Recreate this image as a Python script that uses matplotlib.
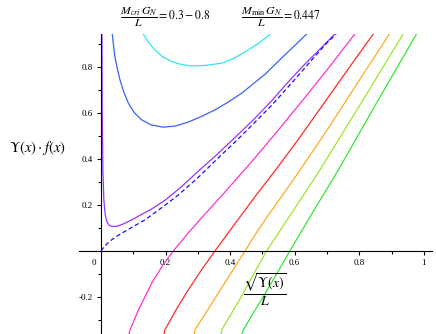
import matplotlib
matplotlib.use("Agg")
import matplotlib.pyplot as plt
from matplotlib.ticker import FixedLocator

plt.rcParams['font.family'] = ['Liberation Serif', 'DejaVu Serif']
plt.rcParams['mathtext.fontset'] = 'stix'

# curves
cyan_x = [0.131, 0.148, 0.167, 0.19, 0.219, 0.25, 0.281, 0.32, 0.374, 0.41, 0.446, 0.49, 0.525]
cyan_y = [0.943, 0.905, 0.874, 0.845, 0.823, 0.810, 0.804, 0.806, 0.816, 0.836, 0.865, 0.905, 0.943]

blue_x = [0.035, 0.0387, 0.043, 0.0505, 0.059, 0.0706, 0.085, 0.1037, 0.126, 0.155, 0.193,
          0.23, 0.27, 0.31, 0.353, 0.395, 0.436, 0.477, 0.508, 0.559, 0.60, 0.637]
blue_y = [0.943, 0.896, 0.845, 0.794, 0.743, 0.691, 0.642, 0.600, 0.570, 0.548, 0.538,
          0.543, 0.560, 0.584, 0.613, 0.648, 0.686, 0.733, 0.768, 0.838, 0.893, 0.943]

purple_x = [0.003, 0.004, 0.006, 0.009, 0.013, 0.018, 0.025, 0.033, 0.05, 0.07, 0.095, 0.121,
            0.16, 0.2, 0.25, 0.3, 0.36, 0.42, 0.477, 0.53, 0.58, 0.63, 0.68, 0.724]
purple_y = [0.943, 0.6, 0.35, 0.22, 0.16, 0.128, 0.112, 0.106, 0.107, 0.118, 0.135, 0.155,
            0.185, 0.222, 0.28, 0.345, 0.42, 0.5, 0.577, 0.655, 0.735, 0.81, 0.88, 0.943]

dash_x = [0.0, 0.01, 0.025, 0.05, 0.08, 0.136, 0.19, 0.239, 0.3, 0.36, 0.42, 0.477, 0.53,
          0.6, 0.66, 0.7, 0.728]
dash_y = [0.0, 0.018, 0.04, 0.065, 0.09, 0.135, 0.19, 0.243, 0.318, 0.4, 0.48, 0.56, 0.635,
          0.745, 0.842, 0.905, 0.943]

magenta_x = [0.087, 0.09, 0.116, 0.157, 0.19, 0.224, 0.27, 0.322, 0.38, 0.446, 0.477, 0.55,
             0.632, 0.71, 0.786]
magenta_y = [-0.361, -0.343, -0.257, -0.14, -0.065, 0.0, 0.078, 0.16, 0.25, 0.355, 0.405, 0.527,
             0.668, 0.805, 0.943]

red_x = [0.195, 0.198, 0.235, 0.270, 0.31, 0.353, 0.42, 0.477, 0.544, 0.61, 0.683, 0.76, 0.843]
red_y = [-0.361, -0.343, -0.25, -0.17, -0.085, 0.0, 0.128, 0.236, 0.358, 0.483, 0.627, 0.78, 0.943]

orange_x = [0.289, 0.291, 0.363, 0.446, 0.477, 0.508, 0.606, 0.7, 0.8, 0.893]
orange_y = [-0.361, -0.343, -0.184, 0.0, 0.070, 0.135, 0.33, 0.525, 0.742, 0.943]

yg_x = [0.372, 0.374, 0.43, 0.477, 0.513, 0.6, 0.678, 0.8, 0.936]
yg_y = [-0.361, -0.343, -0.21, -0.09, 0.0, 0.185, 0.352, 0.63, 0.943]

green_x = [0.436, 0.441, 0.477, 0.497, 0.585, 0.65, 0.735, 0.85, 0.977]
green_y = [-0.361, -0.343, -0.257, -0.213, 0.0, 0.155, 0.352, 0.635, 0.943]

fig = plt.figure(figsize=(4.36, 3.34), dpi=100)
ax = fig.add_axes([79 / 436, 0, 353 / 436, 300 / 334])
ax.set_xlim(-0.068, 1.025)
ax.set_ylim(-0.361, 0.943)

lw = 0.9
ax.plot(cyan_x, cyan_y, color='#2EE6F0', lw=lw)
ax.plot(blue_x, blue_y, color='#3A63F5', lw=lw)
ax.plot(purple_x, purple_y, color='#9933FF', lw=lw)
ax.plot(dash_x, dash_y, color='#1010FF', lw=lw, dashes=(3.5, 2.2))
ax.plot(magenta_x, magenta_y, color='#FF33CC', lw=lw)
ax.plot(red_x, red_y, color='#FF2A2A', lw=lw)
ax.plot(orange_x, orange_y, color='#FFAA22', lw=lw)
ax.plot(yg_x, yg_y, color='#9EE62A', lw=lw)
ax.plot(green_x, green_y, color='#33E633', lw=lw)

# axes crossing at the origin, Maple style
for s in ['top', 'right']:
    ax.spines[s].set_visible(False)
ax.spines['left'].set_position(('data', 0))
ax.spines['bottom'].set_position(('data', 0))
for s in ['left', 'bottom']:
    ax.spines[s].set_linewidth(0.8)

ax.xaxis.set_major_locator(FixedLocator([0.2, 0.4, 0.6, 0.8, 1.0]))
ax.xaxis.set_minor_locator(FixedLocator([0.1, 0.3, 0.5, 0.7, 0.9]))
ax.yaxis.set_major_locator(FixedLocator([-0.2, 0.2, 0.4, 0.6, 0.8]))
ax.yaxis.set_minor_locator(FixedLocator([-0.3, -0.1, 0.1, 0.3, 0.5, 0.7, 0.9]))
ax.set_xticklabels(['0.2', '0.4', '0.6', '0.8', '1'])
ax.set_yticklabels(['-0.2', '0.2', '0.4', '0.6', '0.8'])
ax.tick_params(which='major', length=3, width=0.8, labelsize=6.5, pad=3, direction='out')
ax.tick_params(which='minor', length=2, width=0.8, direction='out')
ax.text(-0.022, -0.052, '0', fontsize=6.5, ha='center', va='center')

fig.text(37 / 436, 1 - 148 / 334, r'$\Upsilon(x)\cdot f(x)$', fontsize=10.5,
         ha='center', va='center')
fig.text(265 / 436, 1 - 290 / 334, r'$\dfrac{\sqrt{\Upsilon(x)}}{L}$', fontsize=10,
         ha='center', va='center')
fig.text(165 / 436, 1 - 17 / 334, r'$\dfrac{M_{cri}\,G_N}{L} = 0.3-0.8$', fontsize=8.5,
         ha='center', va='center')
fig.text(281 / 436, 1 - 17 / 334, r'$\dfrac{M_{\mathrm{min}}\,G_N}{L} = 0.447$', fontsize=8.5,
         ha='center', va='center')

fig.savefig('out.png', dpi=100)
